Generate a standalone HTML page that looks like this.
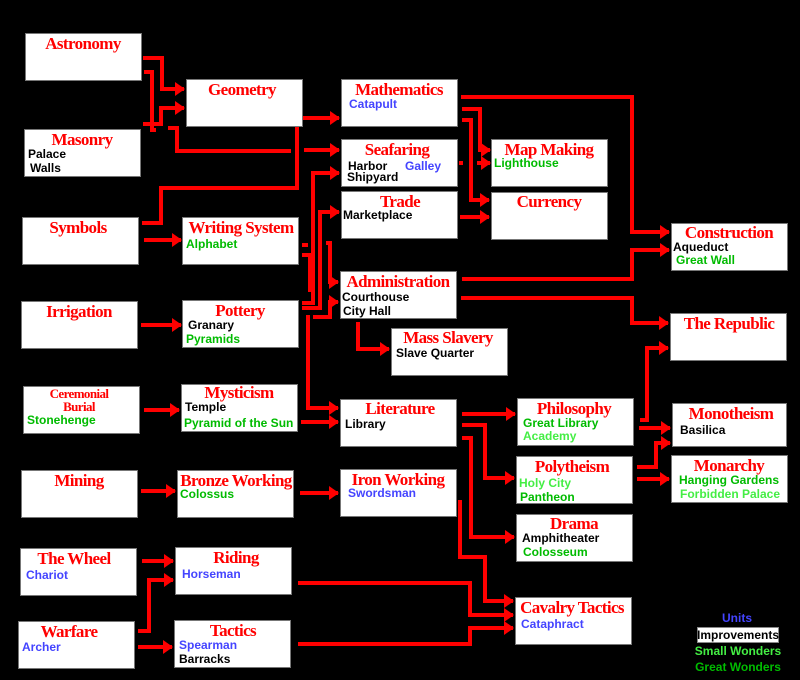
<!DOCTYPE html>
<html><head><meta charset="utf-8"><style>
html,body{margin:0;padding:0;background:#000;width:800px;height:680px;overflow:hidden}
svg{display:block}
.b{fill:#fff;stroke:#777;stroke-width:1}
.t{font-family:"Liberation Serif",serif;font-weight:bold;font-size:17px;letter-spacing:-0.6px;fill:#f00;text-anchor:middle}
.i{font-family:"Liberation Sans",sans-serif;font-weight:bold;font-size:12px}
.k{fill:#000}.u{fill:#4444ff}.g{fill:#00bb00}.s{fill:#44ee44}
.l{fill:none;stroke:#f00;stroke-width:4;stroke-linejoin:miter}
.a{marker-end:url(#ah)}
</style></head><body>
<svg width="800" height="680" viewBox="0 0 800 680" xmlns="http://www.w3.org/2000/svg">
<defs><marker id="ah" markerUnits="userSpaceOnUse" markerWidth="10" markerHeight="14" refX="9" refY="7" orient="auto"><path d="M0,0 L10,7 L0,14 z" fill="#f00"/></marker></defs>
<g class="l">
<polyline class="a" points="143,58 162,58 162,89 184,89"/>
<polyline points="144,72 152,72 152,130 156,130"/>
<polyline class="a" points="143,124 161,124 161,108 184,108"/>
<polyline points="168,128 177,128 177,151 291,151"/>
<polyline class="a" points="304,150 339,150"/>
<polyline class="a" points="142,223 161,223 161,188 297,188 297,118 339,118"/>
<polyline class="a" points="144,240 181,240"/>
<polyline class="a" points="141,325 181,325"/>
<polyline class="a" points="302,303 313,303 313,173 339,173"/>
<polyline class="a" points="302,308 320,308 320,212 339,212"/>
<polyline points="302,245 308,245"/>
<polyline points="302,255 310,255 310,292"/>
<polyline class="a" points="326,243 330,243 330,282 338,282"/>
<polyline class="a" points="313,317 330,317 330,302 338,302"/>
<polyline class="a" points="308,315 308,408 338,408"/>
<polyline class="a" points="301,422 338,422"/>
<polyline class="a" points="144,410 179,410"/>
<polyline class="a" points="141,491 175,491"/>
<polyline class="a" points="300,493 338,493"/>
<polyline class="a" points="142,561 173,561"/>
<polyline class="a" points="138,631 149,631 149,580 173,580"/>
<polyline class="a" points="138,647 172,647"/>
<polyline class="a" points="298,583 470,583 470,615 513,615"/>
<polyline class="a" points="298,644 470,644 470,628 513,628"/>
<polyline class="a" points="460,500 460,557 485,557 485,601 513,601"/>
<polyline class="a" points="462,414 515,414"/>
<polyline class="a" points="462,425 485,425 485,478 514,478"/>
<polyline class="a" points="462,438 471,438 471,537 514,537"/>
<polyline class="a" points="640,420 647,420 647,348 668,348"/>
<polyline class="a" points="639,428 670,428"/>
<polyline class="a" points="637,467 656,467 656,443 670,443"/>
<polyline class="a" points="637,479 669,479"/>
<polyline class="a" points="461,97 632,97 632,232 669,232"/>
<polyline class="a" points="462,109 480,109 480,150 490,150"/>
<polyline class="a" points="462,120 471,120 471,200 489,200"/>
<polyline points="459,163 463,163"/>
<polyline class="a" points="477,163 490,163"/>
<polyline class="a" points="460,217 489,217"/>
<polyline class="a" points="462,279 632,279 632,250 669,250"/>
<polyline class="a" points="461,298 632,298 632,323 668,323"/>
<polyline class="a" points="358,322 358,349 389,349"/>
</g>
<rect class="b" x="25.5" y="33.5" width="116" height="47"/><text class="t" x="83" y="49">Astronomy</text>
<rect class="b" x="24.5" y="129.5" width="116" height="47"/><text class="t" x="82" y="145">Masonry</text><text class="i k" x="28" y="158">Palace</text><text class="i k" x="30" y="172">Walls</text>
<rect class="b" x="22.5" y="217.5" width="116" height="47"/><text class="t" x="78" y="233">Symbols</text>
<rect class="b" x="21.5" y="301.5" width="116" height="47"/><text class="t" x="79" y="317">Irrigation</text>
<rect class="b" x="23.5" y="386.5" width="116" height="47"/><text class="t" x="79" y="398" style="font-size:13px">Ceremonial</text><text class="t" x="79" y="411" style="font-size:13px">Burial</text><text class="i g" x="27" y="424">Stonehenge</text>
<rect class="b" x="21.5" y="470.5" width="116" height="47"/><text class="t" x="79" y="486">Mining</text>
<rect class="b" x="20.5" y="548.5" width="116" height="47"/><text class="t" x="74" y="564">The Wheel</text><text class="i u" x="26" y="579">Chariot</text>
<rect class="b" x="18.5" y="621.5" width="116" height="47"/><text class="t" x="69" y="637">Warfare</text><text class="i u" x="22" y="651">Archer</text>
<rect class="b" x="186.5" y="79.5" width="116" height="47"/><text class="t" x="242" y="95">Geometry</text>
<rect class="b" x="182.5" y="217.5" width="116" height="47"/><text class="t" x="241" y="233">Writing System</text><text class="i g" x="186" y="248">Alphabet</text>
<rect class="b" x="182.5" y="300.5" width="116" height="47"/><text class="t" x="240" y="316">Pottery</text><text class="i k" x="188" y="329">Granary</text><text class="i g" x="186" y="343">Pyramids</text>
<rect class="b" x="181.5" y="384.5" width="116" height="47"/><text class="t" x="239" y="398">Mysticism</text><text class="i k" x="185" y="411">Temple</text><text class="i g" x="184" y="427">Pyramid of the Sun</text>
<rect class="b" x="177.5" y="470.5" width="116" height="47"/><text class="t" x="236" y="486">Bronze Working</text><text class="i g" x="180" y="498">Colossus</text>
<rect class="b" x="175.5" y="547.5" width="116" height="47"/><text class="t" x="236" y="563">Riding</text><text class="i u" x="182" y="578">Horseman</text>
<rect class="b" x="174.5" y="620.5" width="116" height="47"/><text class="t" x="233" y="636">Tactics</text><text class="i u" x="179" y="649">Spearman</text><text class="i k" x="179" y="663">Barracks</text>
<rect class="b" x="341.5" y="79.5" width="116" height="47"/><text class="t" x="399" y="95">Mathematics</text><text class="i u" x="349" y="108">Catapult</text>
<rect class="b" x="341.5" y="139.5" width="116" height="47"/><text class="t" x="397" y="155">Seafaring</text><text class="i k" x="348" y="170">Harbor</text><text class="i u" x="405" y="170">Galley</text><text class="i k" x="347" y="181">Shipyard</text>
<rect class="b" x="341.5" y="191.5" width="116" height="47"/><text class="t" x="400" y="207">Trade</text><text class="i k" x="343" y="219">Marketplace</text>
<rect class="b" x="340.5" y="271.5" width="116" height="47"/><text class="t" x="398" y="287">Administration</text><text class="i k" x="342" y="301">Courthouse</text><text class="i k" x="343" y="315">City Hall</text>
<rect class="b" x="391.5" y="328.5" width="116" height="47"/><text class="t" x="448" y="343">Mass Slavery</text><text class="i k" x="396" y="357">Slave Quarter</text>
<rect class="b" x="340.5" y="399.5" width="116" height="47"/><text class="t" x="400" y="414">Literature</text><text class="i k" x="345" y="428">Library</text>
<rect class="b" x="340.5" y="469.5" width="116" height="47"/><text class="t" x="398" y="485">Iron Working</text><text class="i u" x="348" y="497">Swordsman</text>
<rect class="b" x="491.5" y="139.5" width="116" height="47"/><text class="t" x="549" y="155">Map Making</text><text class="i g" x="494" y="167">Lighthouse</text>
<rect class="b" x="491.5" y="192.5" width="116" height="47"/><text class="t" x="549" y="207">Currency</text>
<rect class="b" x="517.5" y="398.5" width="116" height="47"/><text class="t" x="574" y="414">Philosophy</text><text class="i g" x="523" y="427">Great Library</text><text class="i s" x="523" y="440">Academy</text>
<rect class="b" x="516.5" y="456.5" width="116" height="47"/><text class="t" x="572" y="472">Polytheism</text><text class="i s" x="519" y="487">Holy City</text><text class="i g" x="520" y="501">Pantheon</text>
<rect class="b" x="516.5" y="514.5" width="116" height="47"/><text class="t" x="574" y="529">Drama</text><text class="i k" x="522" y="542">Amphitheater</text><text class="i g" x="523" y="556">Colosseum</text>
<rect class="b" x="515.5" y="597.5" width="116" height="47"/><text class="t" x="572" y="613">Cavalry Tactics</text><text class="i u" x="521" y="628">Cataphract</text>
<rect class="b" x="671.5" y="223.5" width="116" height="47"/><text class="t" x="729" y="238">Construction</text><text class="i k" x="673" y="251">Aqueduct</text><text class="i g" x="676" y="264">Great Wall</text>
<rect class="b" x="670.5" y="313.5" width="116" height="47"/><text class="t" x="729" y="329">The Republic</text>
<rect class="b" x="672.5" y="403.5" width="114" height="43"/><text class="t" x="731" y="419">Monotheism</text><text class="i k" x="680" y="434">Basilica</text>
<rect class="b" x="671.5" y="455.5" width="116" height="47"/><text class="t" x="729" y="471">Monarchy</text><text class="i g" x="679" y="484">Hanging Gardens</text><text class="i s" x="680" y="498">Forbidden Palace</text>
<text class="i u" x="737" y="622" text-anchor="middle">Units</text>
<rect x="697.5" y="627.5" width="81" height="15" fill="#fff" stroke="#888"/>
<text class="i k" x="738" y="639" text-anchor="middle">Improvements</text>
<text class="i s" x="738" y="655" text-anchor="middle">Small Wonders</text>
<text class="i g" x="738" y="671" text-anchor="middle">Great Wonders</text>
</svg>
</body></html>
